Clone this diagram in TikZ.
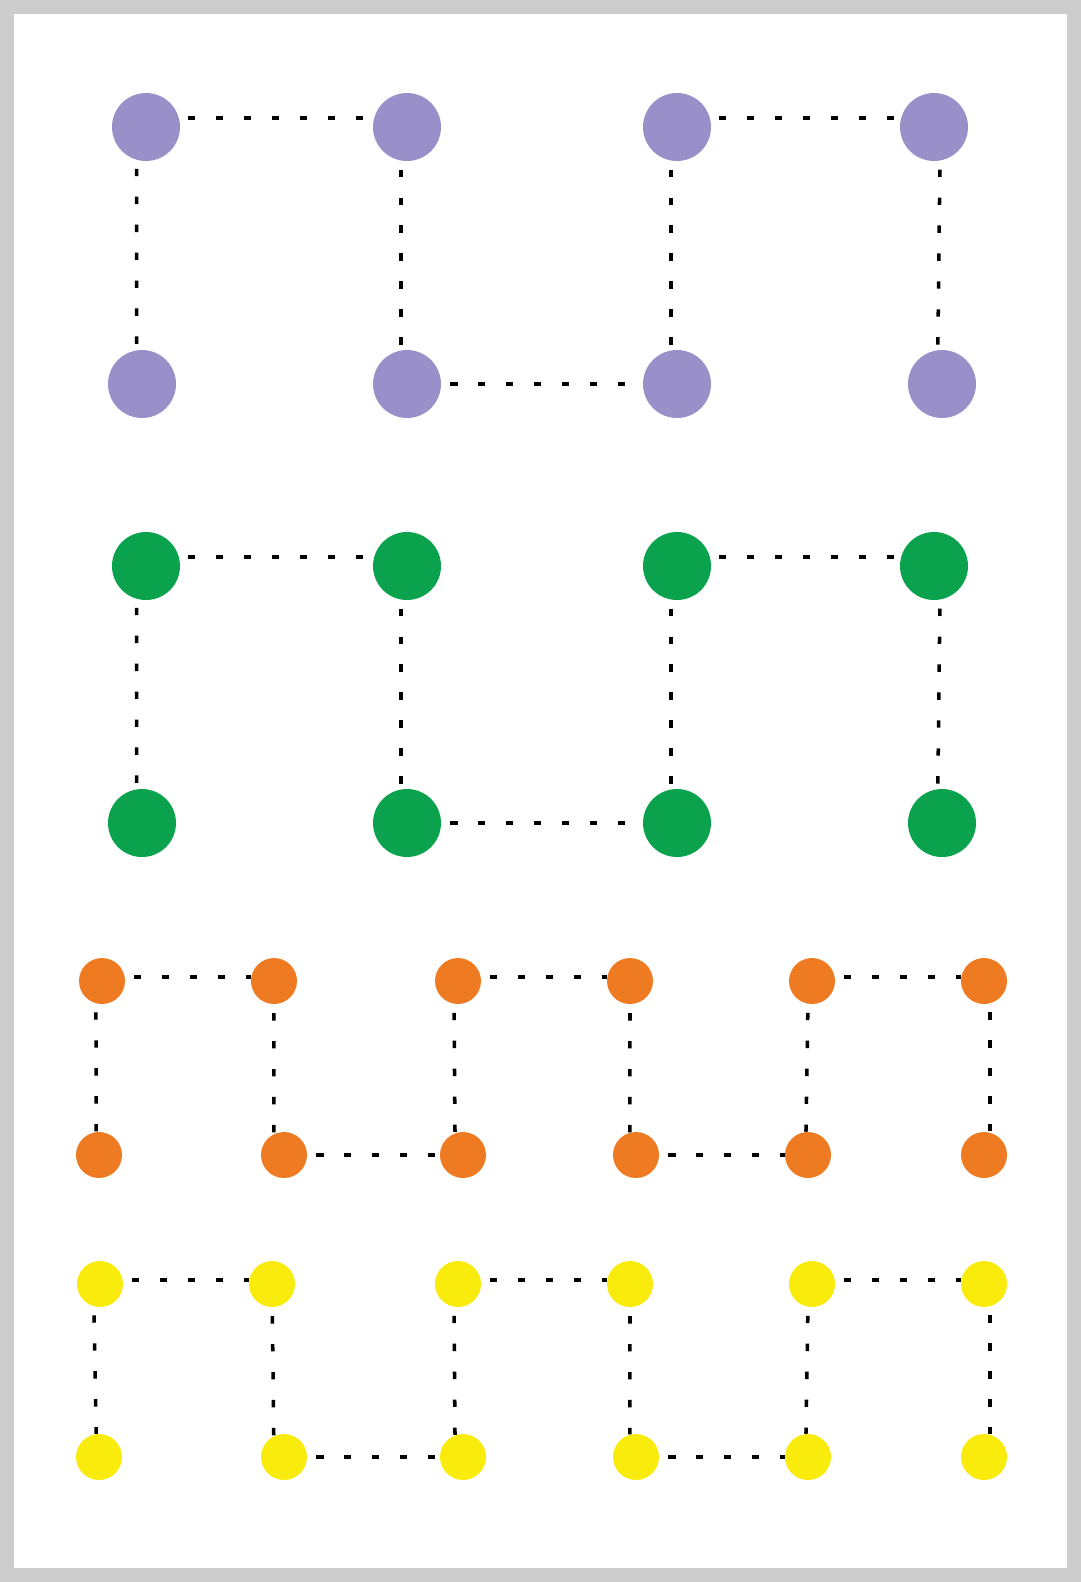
\documentclass[tikz,border=0pt]{standalone}
\usetikzlibrary{positioning}
\definecolor{lav}{HTML}{9A90C9}
\definecolor{grn}{HTML}{0AA24D}
\definecolor{org}{HTML}{EE7B22}
\definecolor{ylw}{HTML}{F9EC0C}
\definecolor{rim}{HTML}{CDCDCD}
\tikzset{
  dot/.style={circle,inner sep=0pt,minimum size=1.36cm},
  sdot/.style={circle,inner sep=0pt,minimum size=0.92cm},
  link/.style={line width=2pt,dash pattern=on 4.2pt off 11.7pt,dash phase=-5pt,draw=black},
  frame/.style={draw=rim,line width=0.28cm},
}
\begin{document}
\begin{tikzpicture}[x=0.02cm,y=-0.02cm]
\useasboundingbox (0,0) rectangle (1081,1582);
\draw[frame] (7,7) rectangle (1074,1575);
% purple
\node[dot,fill=lav] (pa1) at (146,127) {}; \node[dot,fill=lav] (pa2) at (407,127) {};
\node[dot,fill=lav] (pa3) at (677,127) {}; \node[dot,fill=lav] (pa4) at (934,127) {};
\node[dot,fill=lav] (pb1) at (142,384) {}; \node[dot,fill=lav] (pb2) at (407,384) {};
\node[dot,fill=lav] (pb3) at (677,384) {}; \node[dot,fill=lav] (pb4) at (942,384) {};
\draw[link] (pa1.15)--(pa2.165); \draw[link] (pa3.15)--(pa4.165); \draw[link] (pb2)--(pb3);
\draw[link] (pa1.254)--(pb1.99); \draw[link] (pa2.260)--(pb2.100); \draw[link] (pa3.260)--(pb3.100); \draw[link] (pa4.280)--(pb4.97);
% green
\node[dot,fill=grn] (ga1) at (146,566) {}; \node[dot,fill=grn] (ga2) at (407,566) {};
\node[dot,fill=grn] (ga3) at (677,566) {}; \node[dot,fill=grn] (ga4) at (934,566) {};
\node[dot,fill=grn] (gb1) at (142,823) {}; \node[dot,fill=grn] (gb2) at (407,823) {};
\node[dot,fill=grn] (gb3) at (677,823) {}; \node[dot,fill=grn] (gb4) at (942,823) {};
\draw[link] (ga1.15)--(ga2.165); \draw[link] (ga3.15)--(ga4.165); \draw[link] (gb2)--(gb3);
\draw[link] (ga1.254)--(gb1.99); \draw[link] (ga2.260)--(gb2.100); \draw[link] (ga3.260)--(gb3.100); \draw[link] (ga4.280)--(gb4.97);
% orange
\node[sdot,fill=org] (oa1) at (102,981) {}; \node[sdot,fill=org] (oa2) at (274,981) {};
\node[sdot,fill=org] (oa3) at (458,981) {}; \node[sdot,fill=org] (oa4) at (630,981) {};
\node[sdot,fill=org] (oa5) at (812,981) {}; \node[sdot,fill=org] (oa6) at (984,981) {};
\node[sdot,fill=org] (ob1) at (99,1155) {}; \node[sdot,fill=org] (ob2) at (284,1155) {};
\node[sdot,fill=org] (ob3) at (463,1155) {}; \node[sdot,fill=org] (ob4) at (636,1155) {};
\node[sdot,fill=org] (ob5) at (808,1155) {}; \node[sdot,fill=org] (ob6) at (984,1155) {};
\draw[link] (oa1.10)--(oa2.170); \draw[link] (oa3.10)--(oa4.170); \draw[link] (oa5.10)--(oa6.170);
\draw[link] (ob2)--(ob3); \draw[link] (ob4)--(ob5);
\draw[link] (oa1.255)--(ob1.97); \draw[link] (oa2)--(ob2.116); \draw[link] (oa3.260)--(ob3.110);
\draw[link] (oa4)--(ob4.105); \draw[link] (oa5.260)--(ob5.95); \draw[link] (oa6.285)--(ob6.75);
% yellow
\node[sdot,fill=ylw] (ya1) at (100,1284) {}; \node[sdot,fill=ylw] (ya2) at (272,1284) {};
\node[sdot,fill=ylw] (ya3) at (458,1284) {}; \node[sdot,fill=ylw] (ya4) at (630,1284) {};
\node[sdot,fill=ylw] (ya5) at (812,1284) {}; \node[sdot,fill=ylw] (ya6) at (984,1284) {};
\node[sdot,fill=ylw] (yb1) at (99,1457) {}; \node[sdot,fill=ylw] (yb2) at (284,1457) {};
\node[sdot,fill=ylw] (yb3) at (463,1457) {}; \node[sdot,fill=ylw] (yb4) at (636,1457) {};
\node[sdot,fill=ylw] (yb5) at (808,1457) {}; \node[sdot,fill=ylw] (yb6) at (984,1457) {};
\draw[link] (ya1.10)--(ya2.170); \draw[link] (ya3.10)--(ya4.170); \draw[link] (ya5.10)--(ya6.170);
\draw[link] (yb2)--(yb3); \draw[link] (yb4)--(yb5);
\draw[link] (ya1.255)--(yb1.97); \draw[link] (ya2)--(yb2.116); \draw[link] (ya3.260)--(yb3.110);
\draw[link] (ya4)--(yb4.105); \draw[link] (ya5.260)--(yb5.95); \draw[link] (ya6.285)--(yb6.75);
\end{tikzpicture}
\end{document}
